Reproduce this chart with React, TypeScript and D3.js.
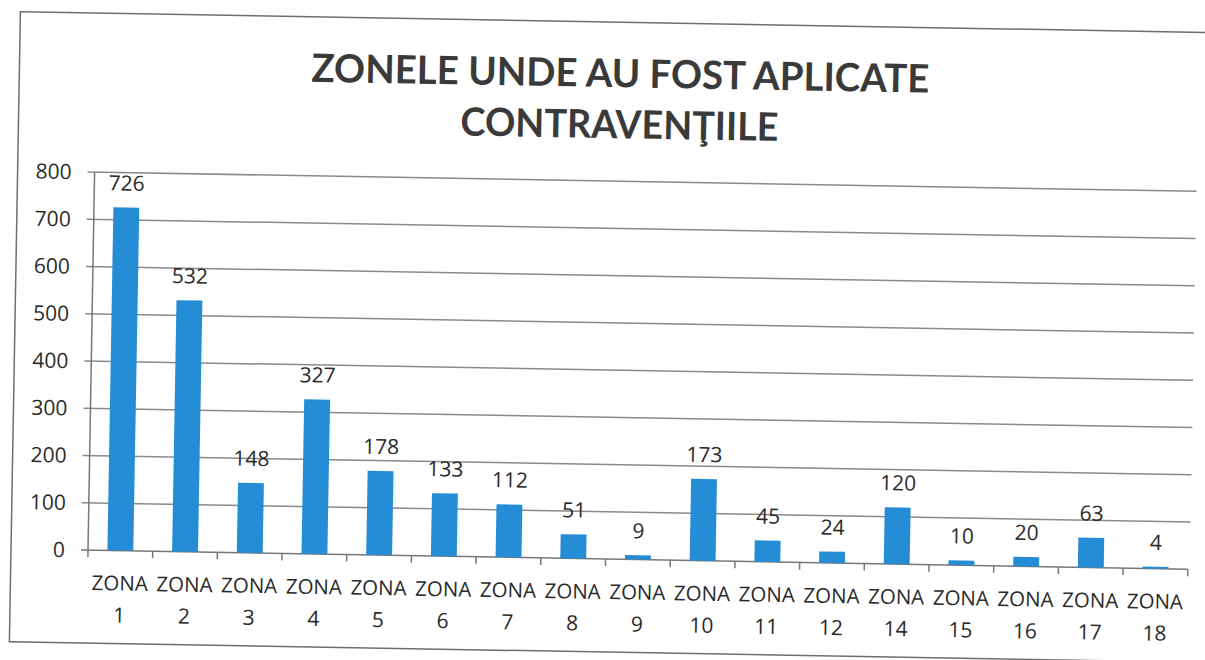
import React from "react";
import * as d3 from "d3";

const categories = ["1","2","3","4","5","6","7","8","9","10","11","12","14","15","16","17","18"];
const values = [726, 532, 148, 327, 178, 133, 112, 51, 9, 173, 45, 24, 120, 10, 20, 63, 4];
const yTicks = [0, 100, 200, 300, 400, 500, 600, 700, 800];
const titleLines = ["ZONELE UNDE AU FOST APLICATE", "CONTRAVENŢIILE"];

const W = 1205;
const H = 660;
const left = 88;
const right = 1188;
const top = 172;
const bottom = 550;
const rot = 1.0;
const font = "'Open Sans', 'DejaVu Sans', sans-serif";

export default function App() {
  const x = d3.scaleBand<string>().domain(categories).range([left, right]).paddingInner(0.6).paddingOuter(0.3);
  const xb = d3.scaleBand<string>().domain(categories).range([left, right]);
  const y = d3.scaleLinear().domain([0, 800]).range([bottom, top]);
  const grid = "#8a8a8a";
  return (
    <svg width={W} height={H} style={{ position: "absolute", left: 0, top: 0, background: "#fff" }} fontFamily={font}>
      <rect x={0} y={0} width={W} height={H} fill="#fff" />
      <g transform={`rotate(${rot}, ${left}, ${bottom})`}>
        <rect x={11} y={13} width={1230} height={630} fill="none" stroke="#6e6e6e" strokeWidth={1.5} />
        {titleLines.map((t, i) => (
          <text key={i} x={612} y={i === 0 ? 78 : 129} textAnchor="middle" fontSize={39} fontWeight="bold" fill="#3a3a3a"
            fontFamily="Lato, 'Open Sans', sans-serif"
            textLength={i === 0 ? 618 : 318} lengthAdjust="spacingAndGlyphs">{t}</text>
        ))}
        {yTicks.map((t) => (
          <g key={t}>
            <line x1={left - 7} x2={t === 0 ? right : right + 2} y1={y(t)} y2={y(t)} stroke={t === 0 ? "#777" : grid} strokeWidth={1.5} />
            <text x={65} y={y(t)} dy="0.36em" textAnchor="end" fontSize={21} fill="#2a2a2a">{t}</text>
          </g>
        ))}
        <line x1={left} x2={left} y1={top} y2={bottom} stroke="#777" strokeWidth={1.5} />
        {categories.map((c) => (
          <line key={"t" + c} x1={xb(c)!} x2={xb(c)!} y1={bottom} y2={bottom + 7} stroke="#777" strokeWidth={1.5} />
        ))}
        <line x1={right} x2={right} y1={bottom} y2={bottom + 7} stroke="#777" strokeWidth={1.5} />
        {categories.map((c, i) => (
          <g key={c}>
            <rect x={x(c)!} y={y(values[i])} width={x.bandwidth()} height={bottom - y(values[i])} fill="#258cd6" />
            <text x={x(c)! + x.bandwidth() / 2} y={y(values[i]) - 17} textAnchor="middle" fontSize={21} fill="#2a2a2a">{values[i]}</text>
            <text x={xb(c)! + xb.bandwidth() / 2} y={590} textAnchor="middle" fontSize={20.5} fill="#2a2a2a">ZONA</text>
            <text x={xb(c)! + xb.bandwidth() / 2} y={622} textAnchor="middle" fontSize={21} fill="#2a2a2a">{c}</text>
          </g>
        ))}
      </g>
    </svg>
  );
}
